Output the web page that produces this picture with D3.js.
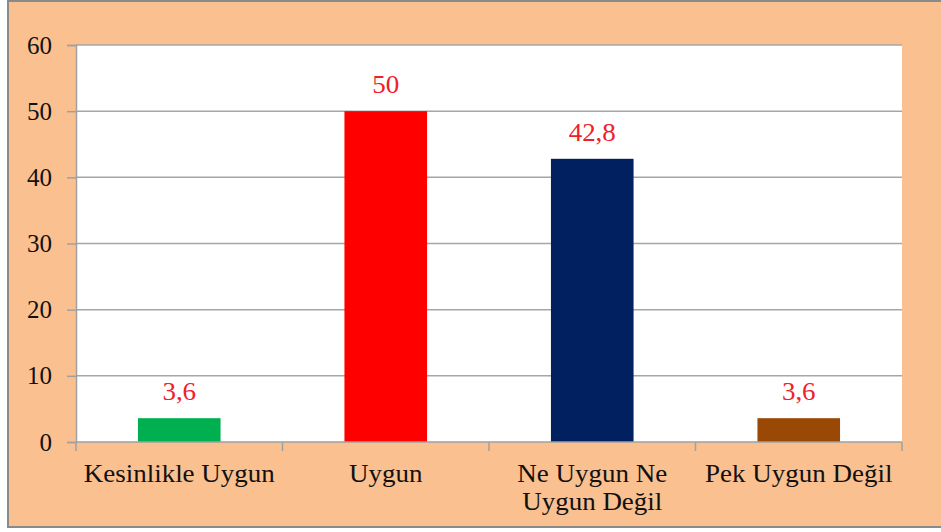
<!DOCTYPE html>
<html>
<head>
<meta charset="utf-8">
<script src="https://cdn.jsdelivr.net/npm/d3@7"></script>
<style>
  body { margin: 0; background: #fff; }
  svg { display: block; }
  svg text { font-family: "Liberation Serif", "Times New Roman", Times, "DejaVu Serif", serif; }
</style>
</head>
<body>
<svg id="chart"></svg>
<script>
const width = 941;
const height = 532;

// data
const categories = ["Kesinlikle Uygun", "Uygun", "Ne Uygun Ne Uygun Değil", "Pek Uygun Değil"];
const labelLines = [["Kesinlikle Uygun"], ["Uygun"], ["Ne Uygun Ne", "Uygun Değil"], ["Pek Uygun Değil"]];
const values = [3.6, 50, 42.8, 3.6];
const valueLabels = ["3,6", "50", "42,8", "3,6"];
const barColors = ["#00b050", "#ff0000", "#002060", "#9a4806"];
const yTicks = [0, 10, 20, 30, 40, 50, 60];

const plot = { left: 76, right: 902, top: 45, bottom: 442 };
const fontSize = 25;
const stretch = 1.08; // the original text is a little wider than Times

const svg = d3.select("#chart")
    .attr("width", width)
    .attr("height", height);

// outer frame
svg.append("rect")
    .attr("x", 8)
    .attr("y", 1)
    .attr("width", width)
    .attr("height", 526)
    .attr("fill", "#fac090")
    .attr("stroke", "#8a8a8a")
    .attr("stroke-width", 2);

const x = d3.scaleBand()
    .domain(categories)
    .range([plot.left, plot.right])
    .paddingInner(0.6)
    .paddingOuter(0.3);

const y = d3.scaleLinear()
    .domain([0, 60])
    .range([plot.bottom, plot.top]);

// plot area
svg.append("rect")
    .attr("x", plot.left)
    .attr("y", plot.top)
    .attr("width", plot.right - plot.left)
    .attr("height", plot.bottom - plot.top)
    .attr("fill", "#fff");

// gridlines
svg.append("g")
    .selectAll("line")
    .data(yTicks.filter(d => d > 0))
    .join("line")
    .attr("x1", plot.left)
    .attr("x2", plot.right)
    .attr("y1", d => y(d))
    .attr("y2", d => y(d))
    .attr("stroke", "#a6a6a6")
    .attr("stroke-width", 1.5);

// y axis
const yAxis = svg.append("g")
    .attr("transform", `translate(${plot.left},0)`)
    .call(d3.axisLeft(y).tickValues(yTicks).tickSize(9).tickPadding(15));
yAxis.attr("font-family", null);
yAxis.select(".domain").attr("stroke", "#a0a0a0").attr("stroke-width", 1.5);
yAxis.selectAll(".tick line").attr("stroke", "#a0a0a0").attr("stroke-width", 1.5);
yAxis.selectAll(".tick text")
    .attr("font-size", fontSize)
    .attr("fill", "#111");

// bars
svg.append("g")
    .selectAll("rect")
    .data(values)
    .join("rect")
    .attr("x", (d, i) => x(categories[i]))
    .attr("y", d => y(d))
    .attr("width", x.bandwidth())
    .attr("height", d => y(0) - y(d))
    .attr("fill", (d, i) => barColors[i]);

// value labels
svg.append("g")
    .selectAll("text")
    .data(values)
    .join("text")
    .attr("transform", (d, i) =>
        `translate(${x(categories[i]) + x.bandwidth() / 2},${y(d) - 18}) scale(${stretch},1)`)
    .attr("text-anchor", "middle")
    .attr("font-size", fontSize)
    .attr("fill", "#f0202a")
    .text((d, i) => valueLabels[i]);

// x axis: boundary ticks
const step = x.step();
const bounds = d3.range(categories.length + 1).map(i => plot.left + i * step);
svg.append("line")
    .attr("x1", plot.left)
    .attr("x2", plot.right)
    .attr("y1", plot.bottom)
    .attr("y2", plot.bottom)
    .attr("stroke", "#a0a0a0")
    .attr("stroke-width", 1.5);
svg.append("g")
    .selectAll("line")
    .data(bounds)
    .join("line")
    .attr("x1", d => d)
    .attr("x2", d => d)
    .attr("y1", plot.bottom)
    .attr("y2", plot.bottom + 9)
    .attr("stroke", "#a0a0a0")
    .attr("stroke-width", 1.5);

// category labels
const catText = svg.append("g")
    .selectAll("text")
    .data(categories)
    .join("text")
    .attr("transform", d => `translate(${x(d) + x.bandwidth() / 2},482) scale(${stretch},1)`)
    .attr("text-anchor", "middle")
    .attr("font-size", fontSize)
    .attr("fill", "#111");

catText.selectAll("tspan")
    .data((d, i) => labelLines[i])
    .join("tspan")
    .attr("x", 0)
    .attr("dy", (d, i) => i === 0 ? 0 : 28)
    .text(d => d);
</script>
</body>
</html>
